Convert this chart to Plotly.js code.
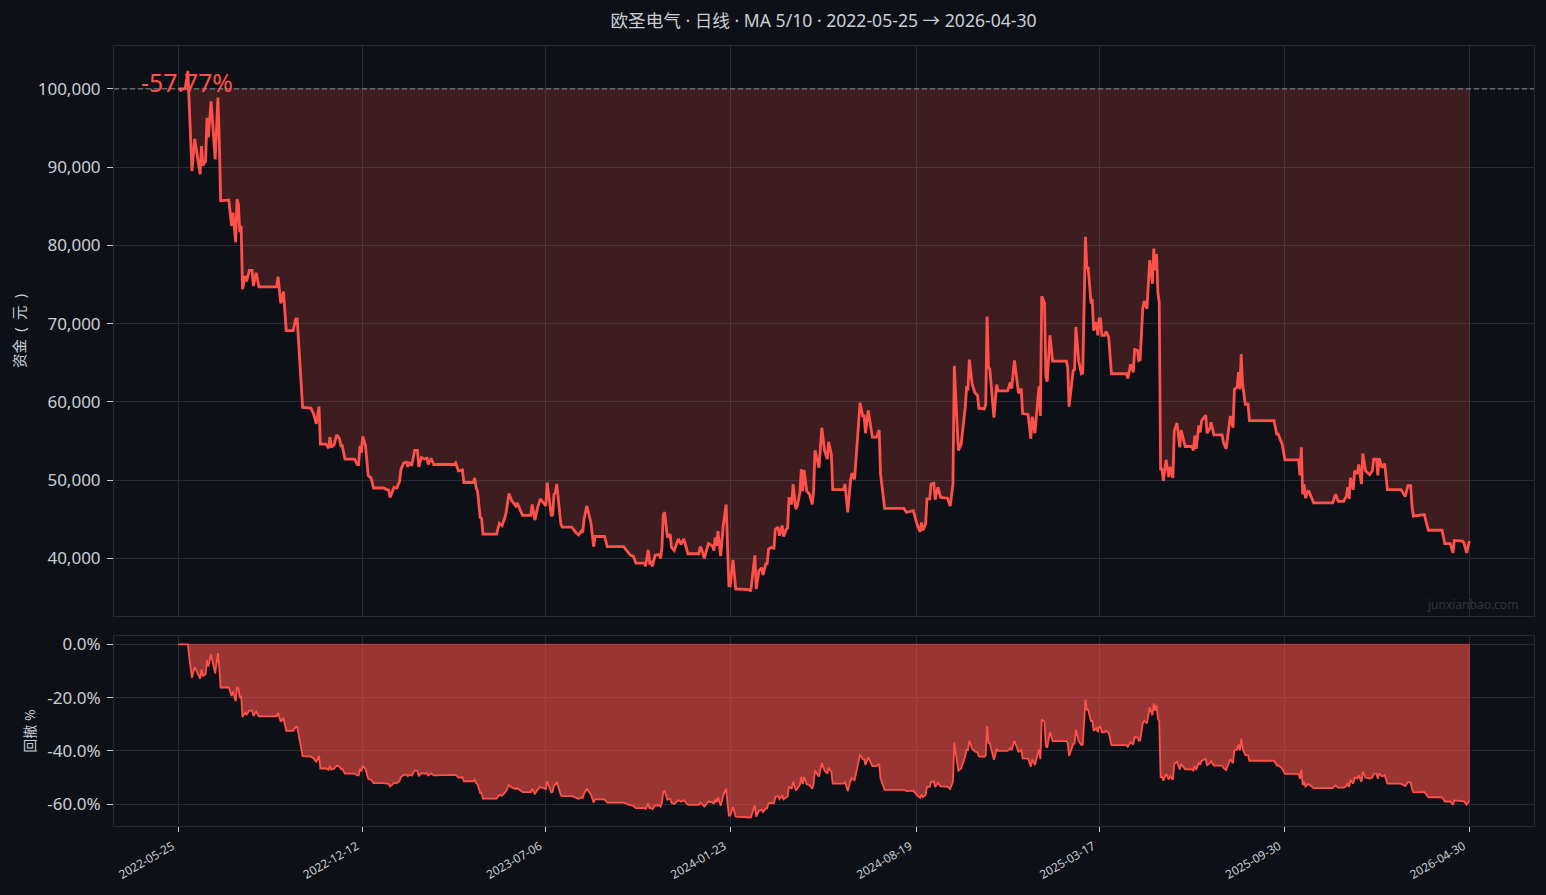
<!DOCTYPE html>
<html>
<head>
<meta charset="utf-8">
<script src="https://cdn.plot.ly/plotly-3.0.1.min.js"></script>
<style>html,body{margin:0;padding:0;background:#0d1117}#chart{width:1546px;height:895px}</style>
</head>
<body>
<div id="chart"></div>
<script>
const tickDays = [0,135,269,404,540,674,810,945];
const tickLabels = ['2022-05-25','2022-12-12','2023-07-06','2024-01-23','2024-08-19','2025-03-17','2025-09-30','2026-04-30'];
const startCapital = 100000;
const titleText = '欧圣电气 · 日线 · MA 5/10 · 2022-05-25 → 2026-04-30';
const returnLabel = '-57.77%';
const ddTicks = [0,-20,-40,-60];
const ddTickLabels = ['0.0%','-20.0%','-40.0%','-60.0%'];

const days = [0,5,7,8,10,12,14,16,17,18,20,21,22,24,27,29,30,31,37,39,40,42,43,44,45,46,47,49,50,52,54,55,57,59,72,73,75,77,79,84,86,87,91,97,99,101,103,104,108,110,111,112,114,116,118,119,120,122,129,131,132,133,134,135,137,139,141,143,150,154,155,158,160,162,163,165,167,168,169,171,173,175,176,178,180,182,183,185,187,202,203,205,208,209,216,217,218,219,221,222,223,233,235,237,239,240,242,244,247,248,250,252,258,259,261,263,265,268,269,270,273,274,275,276,277,280,281,288,291,293,295,296,297,299,302,304,305,312,314,326,328,331,333,335,341,342,344,345,346,347,349,352,353,354,355,356,358,360,361,363,366,368,370,373,381,382,383,385,388,391,392,393,394,395,397,399,401,402,403,404,406,408,418,419,422,423,425,427,428,430,431,432,434,436,437,439,440,442,443,445,446,447,449,450,452,453,455,456,457,458,460,462,464,465,466,469,471,473,475,476,478,479,487,488,490,492,493,495,497,499,501,502,503,505,508,511,513,514,517,531,533,538,541,543,544,545,547,548,550,551,553,554,556,558,563,565,567,568,570,571,573,575,576,577,578,579,581,583,585,586,590,591,592,593,594,597,599,600,607,609,610,612,614,615,617,618,622,624,625,627,630,631,632,634,635,636,638,640,650,651,652,655,656,657,659,661,662,663,664,665,666,668,669,670,672,673,674,675,676,678,679,681,682,683,694,695,697,699,700,702,703,704,706,707,709,711,713,714,715,716,717,718,719,720,721,723,725,726,728,729,731,733,734,737,742,743,744,745,747,748,749,752,753,755,756,758,764,765,767,769,770,772,773,775,776,777,778,779,780,781,783,784,802,804,805,807,808,810,820,821,822,823,824,825,827,828,831,845,847,849,853,855,856,857,858,860,861,863,864,866,867,869,872,874,875,877,878,879,881,883,885,895,898,900,902,903,904,912,915,925,927,931,933,934,940,941,943,945];

const equity = [100000,100000,102300,97500,89500,93600,91300,89100,92700,90200,90800,96300,93800,98400,91000,98900,93400,85700,85800,82500,84200,80400,85900,85300,81700,82500,74400,76100,75400,76800,76800,74800,76500,74700,74700,76000,72600,74100,69100,69100,70600,70600,59300,59200,58500,57200,59400,54600,54600,54100,55500,54200,54500,55800,55300,54400,54400,52700,52700,52000,52000,54400,53500,55600,54400,50600,50300,49000,49000,48700,47800,49100,49000,49900,51400,52200,52300,51700,52200,52000,53800,53800,51700,52900,52700,52800,52000,52800,52000,52000,52200,51200,51300,49700,49700,50300,49000,48600,45200,45100,43100,43100,44500,44200,45200,45900,48300,47400,46700,47100,46300,45500,45500,46900,44900,46500,47600,46900,46700,49700,45400,45600,48200,48400,49500,44400,44000,44000,43300,43000,43500,43300,45000,46700,44600,41500,42800,42800,41500,41500,41000,40400,40300,39400,39400,39000,41100,39400,39500,39000,40400,40500,40000,41400,45600,45900,42700,43100,41400,41000,42500,41800,42500,40600,40600,41500,41200,40000,41900,41600,41000,42700,41600,43500,40300,44400,46900,41000,36500,36500,39800,36100,36000,35800,40400,36100,38400,38800,37900,39300,39300,41200,41400,41300,43700,44000,42900,44200,42800,43700,43900,47800,46900,49500,46300,46700,48400,51400,48600,51300,48600,48200,46900,48600,53800,51600,56700,53800,52700,54900,53300,48800,48800,49500,45900,49900,50900,50100,55700,59900,58200,58200,56000,58900,55500,55500,56400,50800,46400,46400,45900,46100,44200,43400,44600,43600,44400,47600,47600,49500,49600,47500,49100,47800,47700,46700,49500,64600,57200,53800,54600,57600,59300,61800,61700,65400,62300,61200,60800,59200,59100,59700,70900,64400,64200,58000,62200,61400,61400,62500,61700,65300,62300,61100,61700,58500,58400,55300,58100,56000,62000,58200,73500,72600,63200,62600,68500,65200,65200,64400,59400,64000,64100,69600,65300,63600,63700,73000,81100,77100,77100,72800,72900,69100,70200,68500,70600,70600,68500,68500,69000,68300,66300,63600,63600,63000,64800,63800,66700,66600,65300,65400,72100,72900,71900,78100,75100,79600,76800,78900,74000,72700,51400,51400,49900,52600,50400,51700,50300,56300,57300,54200,56400,54300,54300,53800,55700,54000,57000,56100,57600,58300,56000,56600,57400,55800,55800,54800,54000,56700,58200,56700,61600,61900,63800,61600,66100,62300,60800,59700,59700,57600,57600,55900,55900,55000,54600,52600,52600,50600,54200,48200,49500,47700,48700,48400,47100,47100,48200,47300,47300,48000,49100,47600,50300,48800,51200,50800,52000,49500,53400,51200,50700,51200,52700,52700,50600,52800,51600,52100,48800,48800,47900,49300,49300,46700,45400,45600,43600,43600,41900,41900,40700,42300,42200,42000,40700,42230];

const drawdown = [0,0,0,-4.7,-12.5,-8.5,-10.8,-12.9,-9.4,-11.8,-11.2,-5.9,-8.3,-3.8,-11.0,-3.3,-8.7,-16.2,-16.1,-19.4,-17.7,-21.4,-16.0,-16.6,-20.1,-19.4,-27.3,-25.6,-26.3,-24.9,-24.9,-26.9,-25.2,-27.0,-27.0,-25.7,-29.0,-27.6,-32.5,-32.5,-31.0,-31.0,-42.0,-42.1,-42.8,-44.1,-41.9,-46.6,-46.6,-47.1,-45.7,-47.0,-46.7,-45.5,-45.9,-46.8,-46.8,-48.5,-48.5,-49.2,-49.2,-46.8,-47.7,-45.6,-46.8,-50.5,-50.8,-52.1,-52.1,-52.4,-53.3,-52.0,-52.1,-51.2,-49.8,-49.0,-48.9,-49.5,-49.0,-49.2,-47.4,-47.4,-49.5,-48.3,-48.5,-48.4,-49.2,-48.4,-49.2,-49.2,-49.0,-50.0,-49.9,-51.4,-51.4,-50.8,-52.1,-52.5,-55.8,-55.9,-57.9,-57.9,-56.5,-56.8,-55.8,-55.1,-52.8,-53.7,-54.3,-54.0,-54.7,-55.5,-55.5,-54.2,-56.1,-54.5,-53.5,-54.2,-54.3,-51.4,-55.6,-55.4,-52.9,-52.7,-51.6,-56.6,-57.0,-57.0,-57.7,-58.0,-57.5,-57.7,-56.0,-54.3,-56.4,-59.4,-58.2,-58.2,-59.4,-59.4,-59.9,-60.5,-60.6,-61.5,-61.5,-61.9,-59.8,-61.5,-61.4,-61.9,-60.5,-60.4,-60.9,-59.5,-55.4,-55.1,-58.3,-57.9,-59.5,-59.9,-58.5,-59.1,-58.5,-60.3,-60.3,-59.4,-59.7,-60.9,-59.0,-59.3,-59.9,-58.3,-59.3,-57.5,-60.6,-56.6,-54.2,-59.9,-64.3,-64.3,-61.1,-64.7,-64.8,-65.0,-60.5,-64.7,-62.5,-62.1,-63.0,-61.6,-61.6,-59.7,-59.5,-59.6,-57.3,-57.0,-58.1,-56.8,-58.2,-57.3,-57.1,-53.3,-54.2,-51.6,-54.7,-54.3,-52.7,-49.8,-52.5,-49.9,-52.5,-52.9,-54.2,-52.5,-47.4,-49.6,-44.6,-47.4,-48.5,-46.3,-47.9,-52.3,-52.3,-51.6,-55.1,-51.2,-50.2,-51.0,-45.6,-41.4,-43.1,-43.1,-45.3,-42.4,-45.7,-45.7,-44.9,-50.3,-54.6,-54.6,-55.1,-54.9,-56.8,-57.6,-56.4,-57.4,-56.6,-53.5,-53.5,-51.6,-51.5,-53.6,-52.0,-53.3,-53.4,-54.3,-51.6,-36.9,-44.1,-47.4,-46.6,-43.7,-42.0,-39.6,-39.7,-36.1,-39.1,-40.2,-40.6,-42.1,-42.2,-41.6,-30.7,-37.0,-37.2,-43.3,-39.2,-40.0,-40.0,-38.9,-39.7,-36.2,-39.1,-40.3,-39.7,-42.8,-42.9,-45.9,-43.2,-45.3,-39.4,-43.1,-28.2,-29.0,-38.2,-38.8,-33.0,-36.3,-36.3,-37.0,-41.9,-37.4,-37.3,-32.0,-36.2,-37.8,-37.7,-28.6,-20.7,-24.6,-24.6,-28.8,-28.7,-32.5,-31.4,-33.0,-31.0,-31.0,-33.0,-33.0,-32.5,-33.2,-35.2,-37.8,-37.8,-38.4,-36.7,-37.6,-34.8,-34.9,-36.2,-36.1,-29.5,-28.7,-29.7,-23.7,-26.6,-22.2,-24.9,-22.9,-27.7,-28.9,-49.8,-49.8,-51.2,-48.6,-50.7,-49.5,-50.8,-45.0,-44.0,-47.0,-44.9,-46.9,-46.9,-47.4,-45.6,-47.2,-44.3,-45.2,-43.7,-43.0,-45.3,-44.7,-43.9,-45.5,-45.5,-46.4,-47.2,-44.6,-43.1,-44.6,-39.8,-39.5,-37.6,-39.8,-35.4,-39.1,-40.6,-41.6,-41.6,-43.7,-43.7,-45.4,-45.4,-46.2,-46.6,-48.6,-48.6,-50.5,-47.0,-52.9,-51.6,-53.4,-52.4,-52.7,-54.0,-54.0,-52.9,-53.8,-53.8,-53.1,-52.0,-53.5,-50.8,-52.3,-50.0,-50.3,-49.2,-51.6,-47.8,-50.0,-50.4,-50.0,-48.5,-48.5,-50.5,-48.4,-49.6,-49.1,-52.3,-52.3,-53.2,-51.8,-51.8,-54.3,-55.6,-55.4,-57.4,-57.4,-59.0,-59.0,-60.2,-58.6,-58.7,-58.9,-60.2,-58.7];

const RED = '#ff5049';
const FG = '#c9ced4';
const GRID = '#262b33';
const FONT = '"Noto Sans","Noto Sans CJK SC",sans-serif';
const firstDay = days[0], lastDay = days[days.length-1];

const traces = [
  {x:[firstDay,lastDay], y:[startCapital,startCapital], mode:'lines', line:{width:0}, hoverinfo:'skip', showlegend:false, xaxis:'x', yaxis:'y'},
  {x:days, y:equity, mode:'lines', line:{color:RED,width:2.8,shape:'linear'}, fill:'tonexty', fillcolor:'rgba(255,80,70,0.2)', showlegend:false, xaxis:'x', yaxis:'y'},
  {x:[lastDay,lastDay], y:[startCapital,equity[equity.length-1]], mode:'lines', line:{color:'rgba(255,80,70,0.2)',width:1}, hoverinfo:'skip', showlegend:false, xaxis:'x', yaxis:'y'},
  {x:days, y:drawdown, mode:'lines', line:{color:RED,width:1.8}, fill:'tozeroy', fillcolor:'rgba(255,80,70,0.58)', showlegend:false, xaxis:'x2', yaxis:'y2'},
  {x:[firstDay,lastDay,lastDay], y:[0,0,drawdown[drawdown.length-1]], mode:'lines', line:{color:'rgba(255,80,70,0.45)',width:1.2}, hoverinfo:'skip', showlegend:false, xaxis:'x2', yaxis:'y2'}
];

const xCommon = {
  range:[-47.06,992.3], tickmode:'array', tickvals:tickDays, ticktext:tickLabels,
  showgrid:true, gridcolor:GRID, gridwidth:1, zeroline:false,
  showline:true, mirror:true, linecolor:GRID, linewidth:1
};

const layout = {
  width:1546, height:895,
  paper_bgcolor:'#0d1117', plot_bgcolor:'#0d1117',
  font:{family:FONT,color:FG,size:14},
  margin:{l:114,r:12,t:46,b:69,pad:0},
  showlegend:false,
  title:{text:titleText, font:{family:FONT,size:17.6,color:FG}, x:0.5327, xanchor:'center', y:0.9765, yanchor:'middle'},
  xaxis:Object.assign({}, xCommon, {domain:[0,1], anchor:'y', showticklabels:false, ticks:''}),
  yaxis:{domain:[0.2692,1], anchor:'x', range:[32640,105480], tickvals:[40000,50000,60000,70000,80000,90000,100000],
    tickformat:',d', tickfont:{size:17,color:FG}, ticks:'outside', ticklen:6, tickcolor:FG, tickwidth:1, ticklabelstandoff:3,
    showgrid:true, gridcolor:GRID, zeroline:false, showline:true, mirror:true, linecolor:GRID, linewidth:1,
    title:{text:'资金\u2002(\u2002元\u2002)\u2002', font:{size:14.5,color:FG}, standoff:8}},
  xaxis2:Object.assign({}, xCommon, {domain:[0,1], anchor:'y2', ticks:'outside', ticklen:5, tickcolor:FG, tickwidth:1,
    tickangle:-30, tickfont:{size:11.8,color:FG}, ticklabelstandoff:3, ticklabelshift:-6}),
  yaxis2:{domain:[0,0.2436], anchor:'x2', range:[-68.2,3.15], tickmode:'array', tickvals:ddTicks, ticktext:ddTickLabels,
    tickfont:{size:17,color:FG}, ticks:'outside', ticklen:6, tickcolor:FG, tickwidth:1, ticklabelstandoff:3,
    showgrid:true, gridcolor:GRID, zeroline:false, showline:true, mirror:true, linecolor:GRID, linewidth:1,
    title:{text:'回撤 %', font:{size:14,color:FG}, standoff:8}},
  shapes:[{type:'line', xref:'paper', x0:0, x1:1, yref:'y', y0:startCapital, y1:startCapital,
    line:{color:'#8b8f96',width:1,dash:'5px,3px'}, layer:'above'}],
  annotations:[
    {xref:'paper', yref:'paper', x:0.0173, y:0.954, xanchor:'left', yanchor:'middle', text:returnLabel, showarrow:false,
     font:{family:FONT,size:24.8,color:RED}},
    {xref:'paper', yref:'paper', x:0.9901, y:0.2846, xanchor:'right', yanchor:'middle', text:'junxianbao.com', showarrow:false,
     font:{family:FONT,size:12,color:'#30353d'}}
  ]
};

Plotly.newPlot('chart', traces, layout, {displayModeBar:false, responsive:false});
</script>
</body>
</html>
